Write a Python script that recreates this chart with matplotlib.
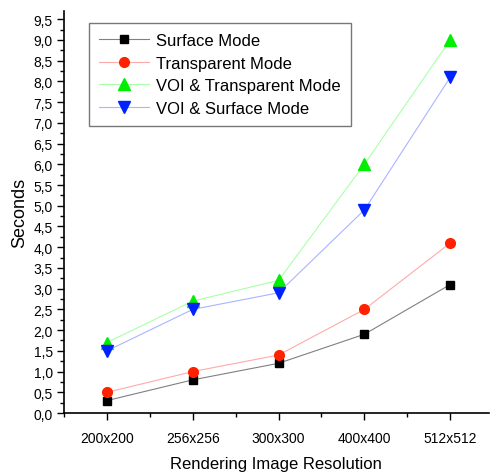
import matplotlib
matplotlib.use("Agg")
import matplotlib.pyplot as plt
from matplotlib.ticker import MultipleLocator, FuncFormatter

categories = ["200x200", "256x256", "300x300", "400x400", "512x512"]
surface = [0.3, 0.8, 1.2, 1.9, 3.1]
transparent = [0.5, 1.0, 1.4, 2.5, 4.1]
voi_transparent = [1.7, 2.7, 3.2, 6.0, 9.0]
voi_surface = [1.5, 2.5, 2.9, 4.9, 8.1]

plt.rcParams['font.family'] = ['Liberation Sans', 'DejaVu Sans']

fig = plt.figure(figsize=(4.9, 4.77), dpi=100)
ax = fig.add_axes([0.1306, 0.132, 0.867, 0.843])

x = list(range(1, len(categories) + 1))
series = [
    (surface, "Surface Mode", "s", "#000000", "#808080", 6),
    (transparent, "Transparent Mode", "o", "#ff2200", "#ffaaaa", 7),
    (voi_transparent, "VOI & Transparent Mode", "^", "#00ee00", "#aaffaa", 8),
    (voi_surface, "VOI & Surface Mode", "v", "#0022ff", "#aab4ff", 8),
]
for vals, lab, m, mc, lc, ms in series:
    ax.plot(x, vals, color=lc, lw=0.8, marker=m, markersize=ms,
            markerfacecolor=mc, markeredgecolor=mc, label=lab)

ax.set_xlim(0.5, 5.45)
ax.set_ylim(0, 9.7)
ax.set_xticks(x)
ax.set_xticklabels(categories)
ax.xaxis.set_minor_locator(MultipleLocator(0.5))
ax.yaxis.set_major_locator(MultipleLocator(0.5))
ax.yaxis.set_minor_locator(MultipleLocator(0.25))
ax.yaxis.set_major_formatter(FuncFormatter(lambda v, p: f"{v:.1f}".replace(".", ",")))
ax.tick_params(axis='both', which='major', direction='out', length=5, width=1, labelsize=10, pad=3)
ax.tick_params(axis='both', which='minor', direction='out', length=3, width=1)
ax.tick_params(axis='x', pad=8)
for s in ['top', 'right']:
    ax.spines[s].set_visible(False)
for s in ['left', 'bottom']:
    ax.spines[s].set_linewidth(1.2)

ax.set_ylabel("Seconds", fontsize=13, labelpad=4)
ax.set_xlabel("Rendering Image Resolution", fontsize=12, labelpad=8)

leg = ax.legend(loc='upper left', bbox_to_anchor=(0.04, 0.99), fontsize=12,
                frameon=True, fancybox=False, edgecolor='#555555',
                handlelength=3, borderpad=0.6, labelspacing=0.45, handletextpad=0.4)
leg.get_frame().set_linewidth(1.0)

fig.savefig("out.png", dpi=100)
